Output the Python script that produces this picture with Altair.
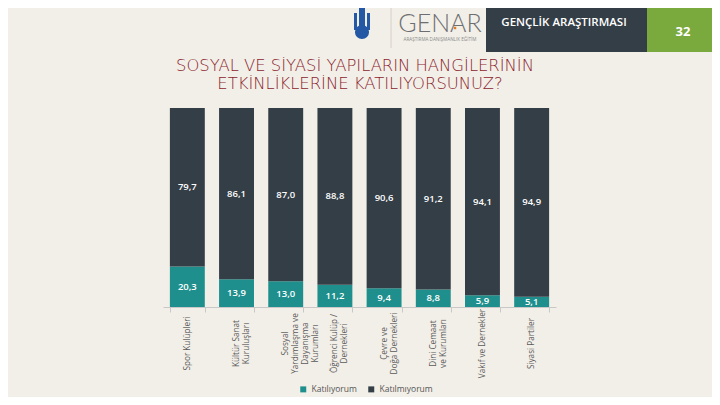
import altair as alt
import pandas as pd

categories = [
    "Spor Kulüpleri",
    "Kültür Sanat\nKuruluşları",
    "Sosyal\nYardımlaşma ve\nDayanışma\nKurumları",
    "Öğrenci Kulüp /\nDernekleri",
    "Çevre ve\nDoğa Dernekleri",
    "Dini Cemaat\nve Kurumları",
    "Vakıf ve Dernekler",
    "Siyasi Partiler",
]
katiliyorum = [20.3, 13.9, 13.0, 11.2, 9.4, 8.8, 5.9, 5.1]
katilmiyorum = [79.7, 86.1, 87.0, 88.8, 90.6, 91.2, 94.1, 94.9]
groups = ["Katılıyorum", "Katılmıyorum"]
colors = ["#1f8f8d", "#343e46"]

title_line1 = "SOSYAL VE SİYASİ YAPILARIN HANGİLERİNİN"
title_line2 = "ETKİNLİKLERİNE KATILIYORSUNUZ?"
header_text = "GENÇLİK ARAŞTIRMASI"
page_no = "32"
brand = "GENAR"
tagline = "ARAŞTIRMA DANIŞMANLIK EĞİTİM"

rows = []
for c, a, b in zip(categories, katiliyorum, katilmiyorum):
    rows.append({"cat": c, "group": groups[0], "start": 0.0, "end": a, "mid": a / 2, "v": a})
    rows.append({"cat": c, "group": groups[1], "start": a, "end": a + b, "mid": a + b / 2, "v": b})
df = pd.DataFrame(rows)

FONT = "Open Sans"

xscale = alt.Scale(domain=categories, paddingInner=0.29, paddingOuter=0.14)
xaxis = alt.Axis(
    title=None, labelAngle=270, labelAlign="center", labelBaseline="middle",
    labelExpr="split(datum.label, '\\n')", labelLineHeight=10, labelPadding=31,
    tickBand="extent", tickSize=5, tickColor="#c8c8c8", domainColor="#c8c8c8",
    labelFont=FONT, labelFontSize=8.2, labelColor="#5a5a5a",
    labelOverlap=False, labelBound=False, labelFlush=False, labelLimit=0,
)
yscale = alt.Scale(domain=[0, 100], nice=False, zero=True)

bars = alt.Chart(df).mark_bar().encode(
    x=alt.X("cat:N", sort=categories, scale=xscale, axis=xaxis),
    y=alt.Y("start:Q", scale=yscale, axis=None),
    y2="end:Q",
    color=alt.Color(
        "group:N",
        scale=alt.Scale(domain=groups, range=colors),
        legend=alt.Legend(
            title=None, orient="none", direction="horizontal", legendX=136, legendY=277,
            symbolType="square", symbolSize=36, symbolStrokeWidth=0,
            labelFont=FONT, labelFontSize=8.5, labelColor="#555555", columnPadding=10,
        ),
    ),
)

labels = alt.Chart(df).transform_calculate(
    lab="replace(format(datum.v, '.1f'), '.', ',')"
).mark_text(color="white", font=FONT, fontSize=9.5, fontWeight=600).encode(
    x=alt.X("cat:N", sort=categories, scale=xscale),
    y=alt.Y("mid:Q", scale=yscale),
    text="lab:N",
)

one = pd.DataFrame({"k": [0]})

dark_box = alt.Chart(one).mark_rect(color="#343e46").encode(
    x=alt.value(323), x2=alt.value(484), y=alt.value(-100), y2=alt.value(-56)
)
green_box = alt.Chart(one).mark_rect(color="#7aaa3e").encode(
    x=alt.value(484), x2=alt.value(560), y=alt.value(-100), y2=alt.value(-56)
)
header = alt.Chart(pd.DataFrame({"t": [header_text]})).mark_text(
    color="white", font=FONT, fontSize=11.5, fontWeight=600
).encode(x=alt.value(401), y=alt.value(-85), text="t:N")
page = alt.Chart(pd.DataFrame({"t": [page_no]})).mark_text(
    color="white", font=FONT, fontSize=13, fontWeight=700
).encode(x=alt.value(520), y=alt.value(-76), text="t:N")
brand_t = alt.Chart(pd.DataFrame({"t": [brand]})).mark_text(
    color="#6d6e71", font="Lato", fontSize=25, fontWeight=300, baseline="alphabetic"
).encode(x=alt.value(277), y=alt.value(-76), text="t:N")
brand_dot = alt.Chart(one).mark_square(color="#e07b22", size=6, opacity=1).encode(
    x=alt.value(292), y=alt.value(-80)
)
tag_t = alt.Chart(pd.DataFrame({"t": [tagline]})).mark_text(
    color="#8a8a8a", font=FONT, fontSize=4.6
).encode(x=alt.value(277), y=alt.value(-68), text="t:N")
sep = alt.Chart(one).mark_rule(color="#d4d0c8", strokeWidth=1).encode(
    x=alt.value(228), y=alt.value(-102), y2=alt.value(-60)
)
logo_disk = alt.Chart(one).mark_circle(color="#2457a4", size=200, opacity=1).encode(
    x=alt.value(199), y=alt.value(-76)
)
logo_tower = alt.Chart(one).mark_rect(color="#2457a4").encode(
    x=alt.value(196), x2=alt.value(202), y=alt.value(-103), y2=alt.value(-80)
)
logo_l = alt.Chart(one).mark_rect(color="#2457a4").encode(
    x=alt.value(191), x2=alt.value(194), y=alt.value(-95), y2=alt.value(-78)
)
logo_r = alt.Chart(one).mark_rect(color="#2457a4").encode(
    x=alt.value(204), x2=alt.value(207), y=alt.value(-95), y2=alt.value(-78)
)
title1 = alt.Chart(pd.DataFrame({"t": [title_line1]})).mark_text(
    color="#8b1d2c", font="DejaVu Sans", fontSize=16.4, fontWeight=200, baseline="middle"
).encode(x=alt.value(192), y=alt.value(-42.5), text="t:N")
title2 = alt.Chart(pd.DataFrame({"t": [title_line2]})).mark_text(
    color="#8b1d2c", font="DejaVu Sans", fontSize=16.4, fontWeight=200, baseline="middle"
).encode(x=alt.value(197), y=alt.value(-24.5), text="t:N")

chart = alt.layer(
    bars, labels, dark_box, green_box, header, page, brand_t, brand_dot, tag_t, sep,
    logo_disk, logo_tower, logo_l, logo_r, title1, title2,
).properties(
    width=393, height=199,
    autosize=alt.AutoSizeParams(type="none"),
    padding={"left": 155, "top": 100, "right": 156, "bottom": 90},
).configure(background="#f2efe8").configure_view(stroke=None)

chart.save("out.html", embed_options={"renderer": "svg", "actions": False})
